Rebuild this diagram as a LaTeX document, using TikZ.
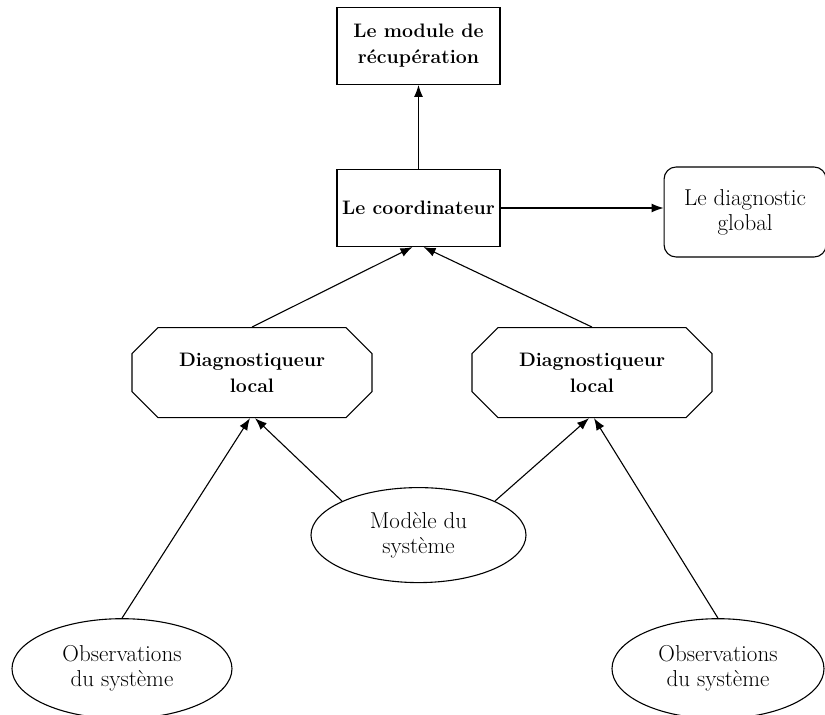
\documentclass[tikz,border=0pt]{standalone}
\usepackage{fontspec}
\usetikzlibrary{arrows.meta, positioning, shapes.geometric, shapes.misc}

\begin{document}
\begin{tikzpicture}
				[
				font=\fontsize{23}{25}\selectfont, line width=1.1pt,
				>={Latex[length=12pt,width=9pt]},
				bloc/.style={rectangle, draw, minimum width=163pt, minimum height=77pt, inner xsep=1pt, align=center, font=\fontsize{19.5}{26}\selectfont\bfseries},
				sortie/.style={rectangle, draw, rounded corners=12pt, minimum width=162pt, minimum height=90pt, align=center},
				diagnostiqueur/.style={chamfered rectangle, chamfered rectangle xsep=25pt, draw, minimum width=240pt, minimum height=90pt, align=center, font=\fontsize{19.5}{26}\selectfont\bfseries},
				donnee/.style={ellipse, draw, align=center, inner sep=0pt}]
				\useasboundingbox (-418.5pt,208pt) rectangle (406.5pt,-507pt);
				\node [bloc]  			(coordinateur)		at (0,0)					{Le coordinateur};
				\node [bloc]  			(module)			[above=84pt of coordinateur]	{Le module de\\r\'ecup\'eration};
				\node [sortie] 			(global)			[right=163pt of coordinateur, yshift=-4pt] 	{Le diagnostic\\global};
				\node [diagnostiqueur]  	(diag gauche)	[below=80pt of coordinateur, xshift=-166.5pt]	{Diagnostiqueur\\local};
				\node [diagnostiqueur] 	(diag droit) 	[below=80pt of coordinateur, xshift=173.5pt]	{Diagnostiqueur\\local};
				\node [donnee, minimum width=215pt, minimum height=95pt] 	(modele) 	[below=240pt of coordinateur]	{Mod\`ele du\\syst\`eme};
				\node [donnee, minimum width=220pt, minimum height=100pt] 	(obs gauche) 	[below=200pt of diag gauche, xshift=-130pt]	{Observations\\du syst\`eme};
				\node [donnee, minimum width=212pt, minimum height=100pt] 	(obs droit) 	[below=200pt of diag droit, xshift=126pt]	{Observations\\du syst\`eme};
				\draw [->] (coordinateur) -- (module);
				\draw [->] (coordinateur.east) -- (coordinateur.east -| global.west);
				\draw [->] (diag gauche.north) -- ([xshift=-6pt]coordinateur.south);
				\draw [->] (diag droit.north) -- ([xshift=5pt]coordinateur.south);
				\draw [->] (obs gauche.north) -- ([xshift=-2pt]diag gauche.south);
				\draw [->] (modele.north west) -- ([xshift=3pt]diag gauche.south);
				\draw [->] (modele.north east) -- ([xshift=-3pt]diag droit.south);
				\draw [->] (obs droit.north) -- ([xshift=2pt]diag droit.south);
			\end{tikzpicture}
\end{document}
